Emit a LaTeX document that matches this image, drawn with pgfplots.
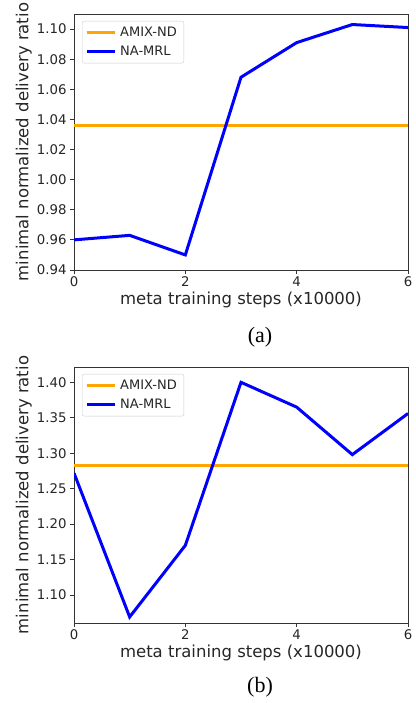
\documentclass[border=0pt]{standalone}
\usepackage{fontspec}
\setmainfont{DejaVu Sans}
\newfontfamily\capfont{Liberation Serif}
\usepackage{pgfplots}
\pgfplotsset{compat=1.18}
\definecolor{mplorange}{HTML}{FFA500}
\definecolor{mplblue}{HTML}{0000FF}
\pgfplotsset{
  myax/.style={
    scale only axis, width=334pt, height=256pt,
    xmin=0, xmax=6, xtick={0,2,4,6},
    tick align=outside, tick pos=left,
    major tick length=4pt,
    axis line style={black!80, line width=0.8pt},
    every tick/.style={black!80, line width=0.8pt},
    /pgf/number format/assume math mode=true,
    ticklabel style={font=\fontsize{13.3}{14}\selectfont, text=black!85},
    xticklabel style={yshift=1pt},
    label style={font=\fontsize{16.5}{17}\selectfont, text=black!85},
    xlabel={meta training steps (x10000)},
    ylabel={minimal normalized delivery ratio},
    xlabel style={at={(axis description cs:0.5,-0.117)}, anchor=center},
    ylabel style={at={(axis description cs:-0.15,0.5)}, anchor=center, rotate=0},
    legend style={at={(axis description cs:0.024,0.973)}, anchor=north west,
      draw=black!20, rounded corners=2pt, fill=white, font=\fontsize{13}{14}\selectfont,
      inner xsep=3pt, inner ysep=3pt, row sep=2pt, text=black!85,
      nodes={inner xsep=4pt, inner ysep=3pt}},
    legend cell align=left,
    legend image code/.code={\draw[##1] (0pt,0pt) -- (28pt,0pt);},
    yticklabel style={/pgf/number format/.cd, fixed, fixed zerofill, precision=2},
  }
}
\begin{document}
\begin{tikzpicture}[x=1pt,y=1pt]
\path[use as bounding box] (0,0) rectangle (415,703);
\begin{axis}[myax, at={(74pt,433pt)}, anchor=south west,
  ymin=0.94, ymax=1.11, ytick={0.94,0.96,...,1.105}]
\addplot[mplorange, line width=3pt] coordinates {(0,1.036) (6,1.036)};
\addlegendentry{AMIX-ND}
\addplot[mplblue, line width=3pt] coordinates {(0,0.960) (1,0.963) (2,0.950) (3,1.068) (4,1.091) (5,1.103) (6,1.101)};
\addlegendentry{NA-MRL}
\end{axis}
\node[font=\capfont\fontsize{22}{22}\selectfont] at (260,366) {(a)};
\begin{axis}[myax, at={(74pt,80pt)}, anchor=south west,
  ymin=1.0605, ymax=1.4216, ytick={1.10,1.15,...,1.41}]
\addplot[mplorange, line width=3pt] coordinates {(0,1.2824) (6,1.2824)};
\addlegendentry{AMIX-ND}
\addplot[mplblue, line width=3pt] coordinates {(0,1.272) (1,1.069) (2,1.170) (3,1.400) (4,1.365) (5,1.298) (6,1.356)};
\addlegendentry{NA-MRL}
\end{axis}
\node[font=\capfont\fontsize{22}{22}\selectfont] at (260,16) {(b)};
\end{tikzpicture}
\end{document}
